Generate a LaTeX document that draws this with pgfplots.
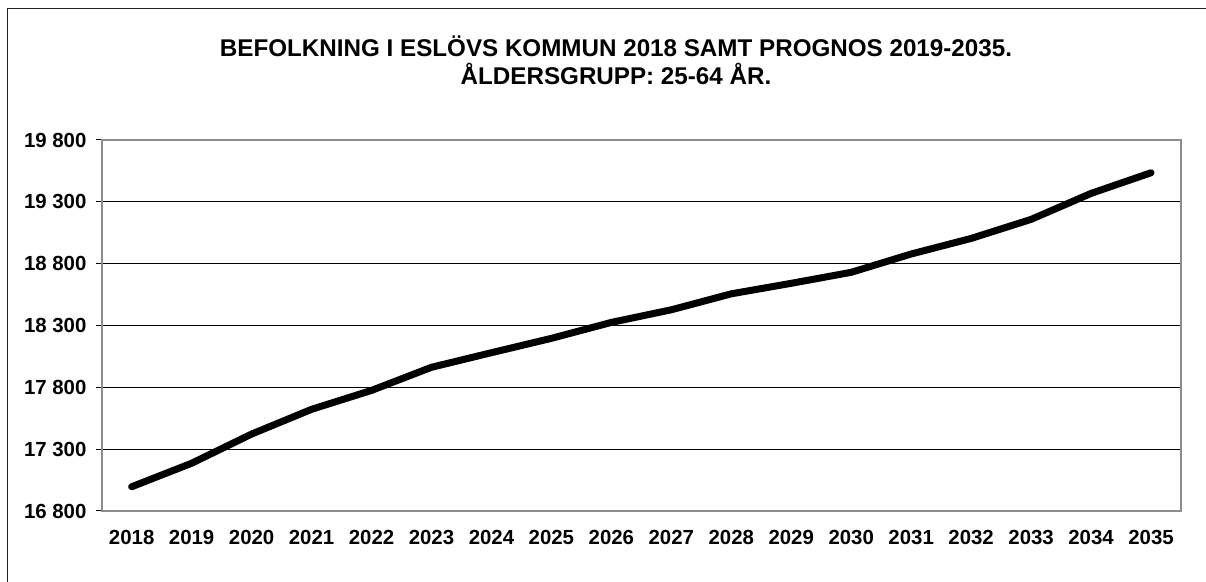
\documentclass[border=0pt]{standalone}
\usepackage{fontspec}
\setmainfont{Liberation Sans}[BoldFont={Liberation Sans Bold}]
\usepackage{pgfplots}
\pgfplotsset{compat=1.18}
\definecolor{clrAxis}{RGB}{140,140,140}
\definecolor{clrFrame}{RGB}{34,34,34}

\pgfplotstableread{
idx value
0  16996
1  17186
2  17422
3  17622
4  17775
5  17962
6  18080
7  18196
8  18325
9  18427
10 18556
11 18641
12 18730
13 18878
14 19004
15 19158
16 19368
17 19535
}\popdata

\begin{document}
\begin{tikzpicture}
\begin{axis}[
  at={(0,0)}, anchor=south west,
  scale only axis,
  width=539.65pt, height=185.5pt,
  xmin=-0.5, xmax=17.5,
  ymin=16800, ymax=19800,
  scaled y ticks=false,
  xtick={0,...,17},
  xticklabels={2018,2019,2020,2021,2022,2023,2024,2025,2026,2027,2028,2029,2030,2031,2032,2033,2034,2035},
  minor xtick={-0.5,0.5,...,17.5},
  ytick={16800,17300,17800,18300,18800,19300,19800},
  yticklabels={16 800,17 300,17 800,18 300,18 800,19 300,19 800},
  xtick pos=bottom, ytick pos=left,
  tick align=outside,
  xtick style={draw=none},
  minor x tick style={black, line width=0.5pt},
  minor tick length=3.3pt,
  ytick style={black, line width=0.5pt},
  major tick length=2.6pt,
  axis line style={clrAxis, line width=1pt},
  ymajorgrids=true,
  grid style={black, line width=0.5pt},
  minor grid style={draw=none},
  ticklabel style={font=\bfseries\fontsize{10.2pt}{12pt}\selectfont, text=black},
  yticklabel style={xshift=-1.5pt},
  xticklabel style={yshift=-3.5pt},
  clip=false,
]
\addplot[black, line width=3.5pt, line cap=round, line join=round] table[x=idx, y=value] {\popdata};
\end{axis}
\path[use as bounding box] (-50.85pt,-35.5pt) rectangle (552.15pt,255.5pt);
\draw[clrFrame, line width=0.65pt] (-47.2pt,-36pt) -- (-47.2pt,251.25pt) -- (553pt,251.25pt);
\node[anchor=base, font=\bfseries\fontsize{12.1pt}{14pt}\selectfont] at (257.15pt,227.15pt) {BEFOLKNING I ESLÖVS KOMMUN 2018 SAMT PROGNOS 2019-2035.};
\node[anchor=base, font=\bfseries\fontsize{12.1pt}{14pt}\selectfont] at (257.15pt,213.35pt) {ÅLDERSGRUPP: 25-64 ÅR.};
\end{tikzpicture}
\end{document}
